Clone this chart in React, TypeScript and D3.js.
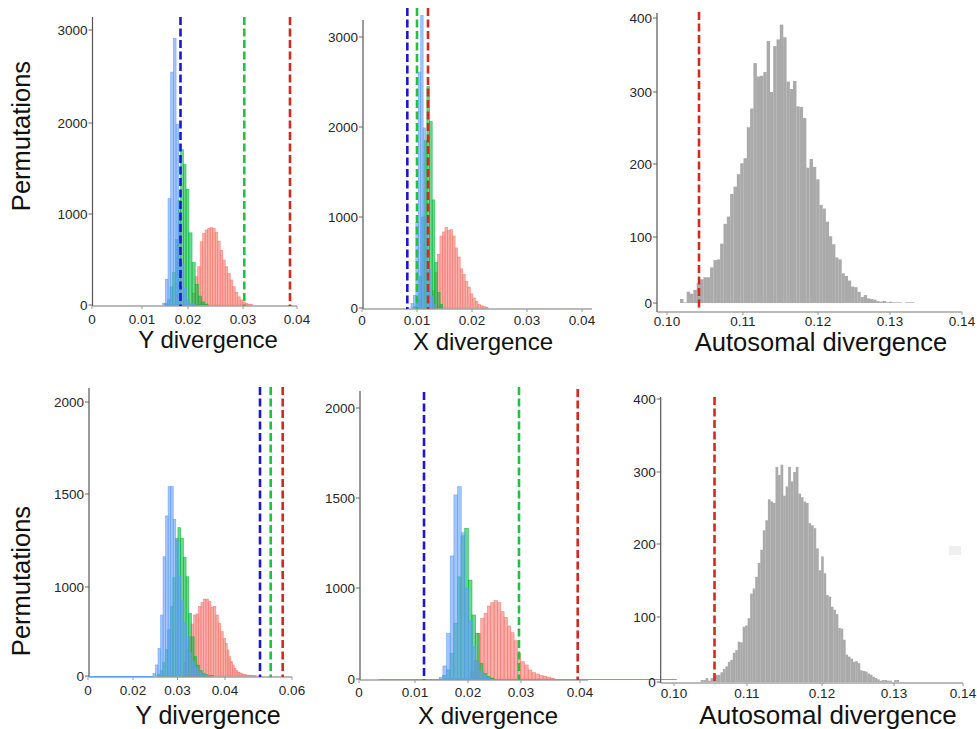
import React from "react";
import * as d3 from "d3";

const FONT = "'Liberation Sans', Arial, Helvetica, sans-serif";

// ---------------- colours ----------------
const RED = "#F8766D";
const GREEN = "#00BA38";
const BLUE = "#619CFF";
const GREY = "#aaaaaa";
const DASH_BLUE = "#1e16d2";
const DASH_GREEN = "#22c241";
const DASH_RED = "#d42a1e";

// ================= DATA =================
// --- Top-left: Y divergence ---
const yTopXTicks = [0, 0.01, 0.02, 0.03, 0.04];
const yTopXLabels = ["0", "0.01", "0.02", "0.03", "0.04"];
const yTopYTicks = [0, 1000, 2000, 3000];
const yTopBlueStart = 0.0145;
const yTopBlueWidth = 0.00058;
const yTopBlue = [20, 283, 1170, 2547, 2910, 1986, 900, 450, 180, 60, 20, 5];
const yTopGreenStart = 0.01493;
const yTopGreenWidth = 0.00058;
const yTopGreen = [15, 60, 200, 360, 720, 1150, 1707, 1543, 1272, 793, 467, 228, 98, 33, 10];
const yTopRedStart = 0.02085;
const yTopRedWidth = 0.000455;
const yTopRed = [130, 311, 420, 695, 788, 824, 843, 850, 843, 800, 700, 600, 494, 420, 347, 275, 201, 140, 90, 55, 35, 20, 10, 5];
const yTopObserved = [0.01837, 0.03024, 0.0387]; // blue, green, red

// --- Top-middle: X divergence ---
const xTopXTicks = [0, 0.01, 0.02, 0.03, 0.04];
const xTopXLabels = ["0", "0.01", "0.02", "0.03", "0.04"];
const xTopYTicks = [0, 1000, 2000, 3000];
const xTopBlueStart = 0.00891;
const xTopBlueWidth = 0.00044;
const xTopBlue = [50, 140, 940, 2610, 3240, 1990, 1000, 420, 130, 40];
const xTopGreenStart = 0.0094;
const xTopGreenWidth = 0.00048;
const xTopGreen = [20, 100, 350, 1000, 1850, 2450, 2060, 1190, 500, 170, 40];
const xTopRedStart = 0.01279;
const xTopRedWidth = 0.00046;
const xTopRed = [190, 390, 590, 790, 836, 885, 850, 860, 790, 660, 560, 430, 370, 290, 230, 155, 110, 70, 40, 25, 15, 8];
const xTopObserved = [0.00824, 0.01, 0.012];

// --- Top-right: Autosomal divergence ---
const aTopXTicks = [0.1, 0.11, 0.12, 0.13, 0.14];
const aTopXLabels = ["0.10", "0.11", "0.12", "0.13", "0.14"];
const aTopYTicks = [0, 100, 200, 300, 400];
const aTopStart = 0.10171;
const aTopWidth = 0.00044;
const aTopCounts = [6, 1, 17, 14, 20, 30, 36, 39, 39, 54, 65, 66, 90, 118, 128, 159, 169, 186, 201, 208, 251, 277, 339, 321, 322, 327, 369, 300, 362, 371, 391, 374, 314, 304, 315, 280, 279, 264, 195, 207, 196, 179, 144, 139, 121, 101, 89, 69, 66, 45, 41, 34, 25, 24, 17, 9, 12, 7, 6, 5, 3, 2, 3, 1, 2, 1, 1, 1, 0, 1, 1, 1];
const aTopObserved = 0.10421;

// --- Bottom-left: Y divergence ---
const yBotXTicks = [0, 0.02, 0.03, 0.04, 0.06];
const yBotXLabels = ["0", "0.02", "0.03", "0.04", "0.06"];
const yBotYTicks = [0, 1000, 1500, 2000];
const yBotBlueStart = 0.02448;
const yBotBlueWidth = 0.00057;
const yBotBlue = [30, 124, 310, 685, 1163, 1382, 1540, 1540, 1364, 1250, 1060, 850, 600, 440, 260, 160, 100, 55, 30, 15, 8, 4];
const yBotGreenStart = 0.02553;
const yBotGreenWidth = 0.00057;
const yBotGreen = [20, 60, 150, 300, 520, 780, 1050, 1260, 1319, 1262, 1160, 1055, 703, 440, 217, 124, 60, 30, 15, 8, 4];
const yBotRedStart = 0.03131;
const yBotRedWidth = 0.00052;
const yBotRed = [150, 300, 440, 584, 685, 697, 780, 826, 864, 864, 836, 773, 780, 685, 592, 498, 424, 367, 292, 217, 161, 124, 87, 60, 45, 35, 25, 18, 15, 10, 8, 6, 5, 4, 3];
const yBotObserved = [0.05045, 0.05364, 0.05722];
const yBotBlueBase = [0, 0.0245];

// --- Bottom-middle: X divergence ---
const xBotXTicks = [0, 0.01, 0.02, 0.03, 0.04];
const xBotXLabels = ["0", "0.01", "0.02", "0.03", "0.04"];
const xBotYTicks = [0, 1000, 1500, 2000];
const xBotBlueStart = 0.01458;
const xBotBlueWidth = 0.00069;
const xBotBlue = [19, 143, 502, 1178, 1517, 1563, 1307, 1000, 640, 355, 180, 85, 35, 12];
const xBotGreenStart = 0.01523;
const xBotGreenWidth = 0.00069;
const xBotGreen = [40, 100, 282, 612, 1062, 1290, 1331, 1044, 703, 502, 173, 63, 25, 10];
const xBotRedStart = 0.02051;
const xBotRedWidth = 0.00063;
const xBotRed = [80, 200, 500, 667, 722, 802, 839, 861, 839, 740, 678, 582, 509, 421, 282, 190, 154, 99, 70, 55, 37, 30, 20, 10];
const xBotObserved = [0.0117, 0.02962, 0.03961];
const xBotBlueBase = [0.0035, 0.0564];

// --- Bottom-right: Autosomal divergence ---
const aBotXTicks = [0.1, 0.11, 0.12, 0.13, 0.14];
const aBotXLabels = ["0.10", "0.11", "0.12", "0.13", "0.14"];
const aBotYTicks = [0, 100, 200, 300, 400];
const aBotStart = 0.10366;
const aBotWidth = 0.000338;
const aBotCounts = [3, 3, 6, 2, 6, 8, 11, 11, 15, 20, 24, 31, 34, 45, 49, 62, 61, 85, 87, 98, 132, 139, 155, 174, 192, 219, 233, 262, 259, 257, 307, 296, 310, 267, 280, 307, 287, 300, 307, 270, 265, 259, 257, 229, 226, 222, 194, 164, 183, 160, 130, 128, 114, 110, 104, 83, 82, 65, 42, 39, 36, 31, 32, 29, 18, 17, 16, 13, 11, 8, 6, 4, 2, 3, 3, 2, 2, 0, 3, 3];
const aBotObserved = 0.10555;

// ================= LAYOUT =================
type Series = { counts: number[]; start: number; width: number; color: string };
type Dash = { value: number; color: string; top: number };
type Layout = {
  xDomain: number[]; xRange: number[]; yDomain: number[]; yRange: number[];
  yAxisX: number; yAxisTop: number; xAxisY: number; xAxisRight: number;
  xLabelDy: number; dashBottom: number;
  title: string; titleX: number; titleY: number; titleSize: number;
};

const TICK_FONT = 13.5;

function Panel(props: {
  layout: Layout; series: Series[]; dashes: Dash[]; xTicks: number[]; xLabels: string[];
  yTicks: number[]; grey?: boolean; baseLine?: number[];
}) {
  const { layout: L, series, dashes, xTicks, xLabels, yTicks, grey, baseLine } = props;
  const x = d3.scaleLinear().domain(L.xDomain).range(L.xRange);
  const y = d3.scaleLinear().domain(L.yDomain).range(L.yRange);
  const y0 = y(0);
  return (
    <g>
      {series.map((s, si) => (
        <g key={si}>
          {s.counts.map((c, i) => {
            const a = x(s.start + i * s.width);
            const b = x(s.start + (i + 1) * s.width);
            const top = y(c);
            if (grey) {
              return <rect key={i} x={a} y={top} width={Math.max(0, b - a) + 0.15} height={Math.max(0, y0 - top)} fill={s.color} />;
            }
            return (
              <rect key={i} x={a} y={top} width={Math.max(0, b - a)} height={Math.max(0, y0 - top)}
                fill={s.color} fillOpacity={0.58} stroke={s.color} strokeOpacity={0.75} strokeWidth={0.7} />
            );
          })}
        </g>
      ))}
      {/* axes */}
      <line x1={L.yAxisX} x2={L.yAxisX} y1={L.yAxisTop} y2={L.xAxisY} stroke="#555" strokeWidth={1.2} />
      <line x1={L.yAxisX} x2={L.xAxisRight} y1={L.xAxisY} y2={L.xAxisY} stroke="#777" strokeWidth={1.2} />
      {baseLine && (
        <line x1={x(baseLine[0])} x2={x(baseLine[1])} y1={L.xAxisY - 0.5} y2={L.xAxisY - 0.5} stroke={BLUE} strokeWidth={1.2} />
      )}
      {yTicks.map((t) => (
        <g key={t}>
          <line x1={L.yAxisX - 4} x2={L.yAxisX} y1={y(t)} y2={y(t)} stroke="#666" strokeWidth={1} />
          <text x={L.yAxisX - 5} y={y(t)} dy="0.36em" textAnchor="end" fontSize={TICK_FONT} fill="#262626" fontFamily={FONT}>{String(t)}</text>
        </g>
      ))}
      {xTicks.map((t, i) => (
        <g key={t}>
          <line x1={x(t)} x2={x(t)} y1={L.xAxisY} y2={L.xAxisY + 3} stroke="#999" strokeWidth={1} />
          <text x={x(t)} y={L.xAxisY + L.xLabelDy} textAnchor="middle" fontSize={TICK_FONT} fill="#262626" fontFamily={FONT}>{xLabels[i]}</text>
        </g>
      ))}
      {dashes.map((d, i) => (
        <line key={i} x1={x(d.value)} x2={x(d.value)} y1={d.top} y2={L.dashBottom}
          stroke={d.color} strokeWidth={2.6} strokeDasharray="8 3.5" />
      ))}
      <text x={L.titleX} y={L.titleY} textAnchor="middle" fontSize={L.titleSize} fill="#111" fontFamily={FONT}>{L.title}</text>
    </g>
  );
}

export default function App() {
  const tl: Layout = {
    xDomain: yTopXTicks, xRange: [92, 142, 188, 243, 297],
    yDomain: yTopYTicks, yRange: [305, 214, 123, 30],
    yAxisX: 92.5, yAxisTop: 17, xAxisY: 306, xAxisRight: 297, xLabelDy: 18, dashBottom: 306,
    title: "Y divergence", titleX: 208, titleY: 348, titleSize: 24,
  };
  const tm: Layout = {
    xDomain: [0, 0.04], xRange: [362, 582],
    yDomain: xTopYTicks, yRange: [308, 217, 127, 37],
    yAxisX: 363, yAxisTop: 20, xAxisY: 309, xAxisRight: 592, xLabelDy: 16, dashBottom: 309,
    title: "X divergence", titleX: 483, titleY: 350, titleSize: 24,
  };
  const tr: Layout = {
    xDomain: aTopXTicks, xRange: [667, 743, 818, 890, 962],
    yDomain: aTopYTicks, yRange: [303, 237, 164, 92, 18],
    yAxisX: 657, yAxisTop: 13, xAxisY: 312, xAxisRight: 962, xLabelDy: 14, dashBottom: 310,
    title: "Autosomal divergence", titleX: 821, titleY: 351, titleSize: 25.5,
  };
  const bl: Layout = {
    xDomain: yBotXTicks, xRange: [88, 133, 177.5, 225, 292],
    yDomain: yBotYTicks, yRange: [676, 587, 494, 402],
    yAxisX: 89, yAxisTop: 388, xAxisY: 677, xAxisRight: 292, xLabelDy: 18, dashBottom: 677,
    title: "Y divergence", titleX: 208, titleY: 724, titleSize: 25,
  };
  const bm: Layout = {
    xDomain: xBotXTicks, xRange: [359, 415, 468, 521, 580],
    yDomain: xBotYTicks, yRange: [679, 588, 498, 408],
    yAxisX: 360, yAxisTop: 391, xAxisY: 680, xAxisRight: 588, xLabelDy: 17, dashBottom: 680,
    title: "X divergence", titleX: 488, titleY: 724, titleSize: 24,
  };
  const br: Layout = {
    xDomain: aBotXTicks, xRange: [674, 747, 822, 894, 963],
    yDomain: aBotYTicks, yRange: [682, 617, 544, 472, 399],
    yAxisX: 660.7, yAxisTop: 397, xAxisY: 683, xAxisRight: 963, xLabelDy: 15, dashBottom: 682,
    title: "Autosomal divergence", titleX: 828, titleY: 724, titleSize: 26,
  };

  return (
    <svg width={977} height={729} style={{ position: "absolute", left: 0, top: 0, background: "#fff" }}>
      <rect x={0} y={0} width={977} height={729} fill="#fff" />
      <Panel layout={tl} xTicks={yTopXTicks} xLabels={yTopXLabels} yTicks={yTopYTicks}
        series={[
          { counts: yTopRed, start: yTopRedStart, width: yTopRedWidth, color: RED },
          { counts: yTopGreen, start: yTopGreenStart, width: yTopGreenWidth, color: GREEN },
          { counts: yTopBlue, start: yTopBlueStart, width: yTopBlueWidth, color: BLUE },
        ]}
        dashes={[
          { value: yTopObserved[0], color: DASH_BLUE, top: 17 },
          { value: yTopObserved[1], color: DASH_GREEN, top: 17 },
          { value: yTopObserved[2], color: DASH_RED, top: 17 },
        ]} />
      <Panel layout={tm} xTicks={xTopXTicks} xLabels={xTopXLabels} yTicks={xTopYTicks}
        series={[
          { counts: xTopRed, start: xTopRedStart, width: xTopRedWidth, color: RED },
          { counts: xTopGreen, start: xTopGreenStart, width: xTopGreenWidth, color: GREEN },
          { counts: xTopBlue, start: xTopBlueStart, width: xTopBlueWidth, color: BLUE },
        ]}
        dashes={[
          { value: xTopObserved[0], color: DASH_BLUE, top: 8 },
          { value: xTopObserved[1], color: DASH_GREEN, top: 8 },
          { value: xTopObserved[2], color: DASH_RED, top: 8 },
        ]} />
      <Panel layout={tr} xTicks={aTopXTicks} xLabels={aTopXLabels} yTicks={aTopYTicks} grey
        series={[{ counts: aTopCounts, start: aTopStart, width: aTopWidth, color: GREY }]}
        dashes={[{ value: aTopObserved, color: DASH_RED, top: 12 }]} />
      <Panel layout={bl} xTicks={yBotXTicks} xLabels={yBotXLabels} yTicks={yBotYTicks} baseLine={yBotBlueBase}
        series={[
          { counts: yBotRed, start: yBotRedStart, width: yBotRedWidth, color: RED },
          { counts: yBotGreen, start: yBotGreenStart, width: yBotGreenWidth, color: GREEN },
          { counts: yBotBlue, start: yBotBlueStart, width: yBotBlueWidth, color: BLUE },
        ]}
        dashes={[
          { value: yBotObserved[0], color: DASH_BLUE, top: 387 },
          { value: yBotObserved[1], color: DASH_GREEN, top: 387 },
          { value: yBotObserved[2], color: DASH_RED, top: 387 },
        ]} />
      <Panel layout={bm} xTicks={xBotXTicks} xLabels={xBotXLabels} yTicks={xBotYTicks} baseLine={xBotBlueBase}
        series={[
          { counts: xBotRed, start: xBotRedStart, width: xBotRedWidth, color: RED },
          { counts: xBotGreen, start: xBotGreenStart, width: xBotGreenWidth, color: GREEN },
          { counts: xBotBlue, start: xBotBlueStart, width: xBotBlueWidth, color: BLUE },
        ]}
        dashes={[
          { value: xBotObserved[0], color: DASH_BLUE, top: 392 },
          { value: xBotObserved[1], color: DASH_GREEN, top: 387 },
          { value: xBotObserved[2], color: DASH_RED, top: 389 },
        ]} />
      <Panel layout={br} xTicks={aBotXTicks} xLabels={aBotXLabels} yTicks={aBotYTicks} grey
        series={[{ counts: aBotCounts, start: aBotStart, width: aBotWidth, color: GREY }]}
        dashes={[{ value: aBotObserved, color: DASH_RED, top: 397 }]} />
      <rect x={949} y={546} width={12} height={9} fill="#efefef" />
      <text transform="translate(30,136) rotate(-90)" textAnchor="middle" fontSize={25.5} fill="#111" fontFamily={FONT}>Permutations</text>
      <text transform="translate(30,581) rotate(-90)" textAnchor="middle" fontSize={25.5} fill="#111" fontFamily={FONT}>Permutations</text>
    </svg>
  );
}
